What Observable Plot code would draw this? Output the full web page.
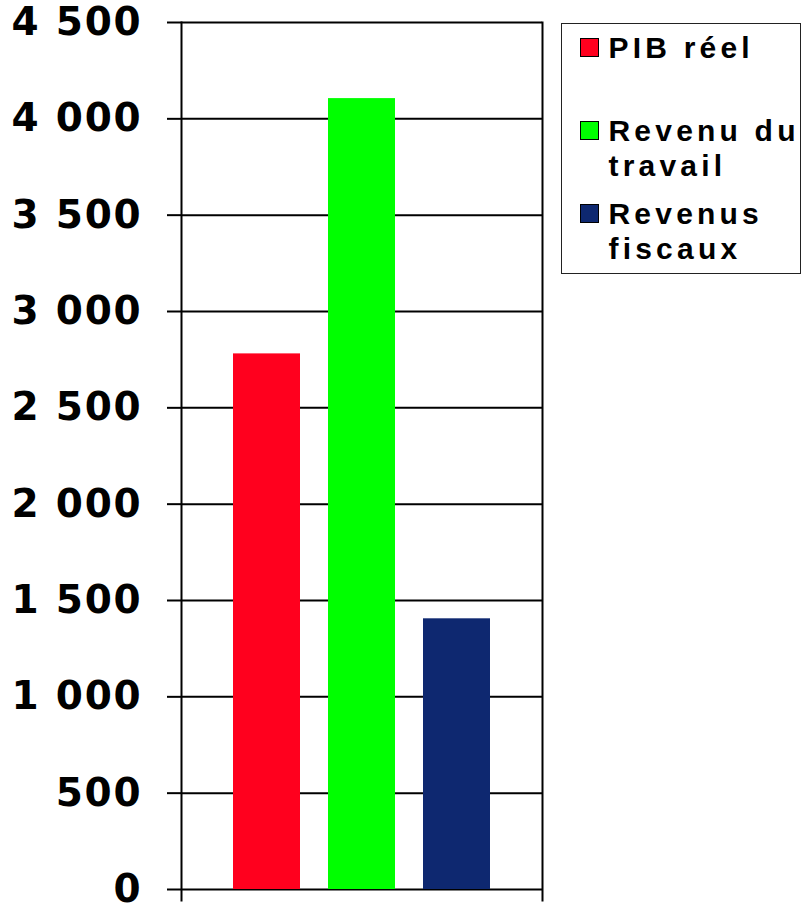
<!DOCTYPE html>
<html>
<head>
<meta charset="utf-8">
<script src="https://cdn.jsdelivr.net/npm/d3@7"></script>
<script src="https://cdn.jsdelivr.net/npm/@observablehq/plot@0.6"></script>
<style>
  html, body { margin: 0; padding: 0; background: #fff; }
  #wrap { position: relative; width: 801px; height: 906px; overflow: hidden; }
  #wrap svg text { letter-spacing: 1.8px; }
  #legend {
    position: absolute; left: 561px; top: 23px; width: 240px; height: 251px;
    border: 1.5px solid #222; box-sizing: border-box; background: #fff;
    font-family: "Liberation Sans", Arial, sans-serif; font-weight: bold; font-size: 30px;
    letter-spacing: 4.2px; color: #000;
  }
  .sw { position: absolute; left: 18px; width: 19px; height: 19px; border: 1.5px solid #000; box-sizing: border-box; }
  .lab { position: absolute; left: 46.5px; white-space: pre; line-height: 35px; }
</style>
</head>
<body>
<div id="wrap"></div>
<script>
const series = ["PIB réel", "Revenu du travail", "Revenus fiscaux"];
const values = [2780, 4105, 1405];
const colors = ["#ff001e", "#00ff00", "#0e2870"];
const legendLabels = ["PIB réel", "Revenu du\ntravail", "Revenus\nfiscaux"];
const yTicks = [0, 500, 1000, 1500, 2000, 2500, 3000, 3500, 4000, 4500];

const data = series.map((s, i) => ({series: s, value: values[i]}));
const fmt = v => d3.format(",")(v).replace(/,/g, " ");

const chart = Plot.plot({
  width: 801,
  height: 906,
  marginLeft: 181,
  marginRight: 259,
  marginTop: 22,
  marginBottom: 17,
  style: {fontFamily: "DejaVu Sans, sans-serif", fontWeight: "bold", background: "#fff", overflow: "visible"},
  x: {domain: series, paddingInner: 0.29, paddingOuter: 0.53, axis: null},
  y: {domain: [0, 4500], axis: null},
  color: {domain: series, range: colors},
  marks: [
    Plot.ruleY(yTicks, {stroke: "#000", strokeWidth: 2}),
    Plot.barY(data, {x: "series", y: "value", fill: "series"}),
    Plot.frame({anchor: "left", stroke: "#000", strokeWidth: 2, insetBottom: -11}),
    Plot.frame({anchor: "right", stroke: "#000", strokeWidth: 2, insetBottom: -11}),
    Plot.axisY({ticks: yTicks, tickFormat: fmt, label: null, tickSize: 14, tickPadding: 25, fontSize: 39, fontWeight: "bold", stroke: "#000", strokeWidth: 2, color: "#000"})
  ]
});
document.getElementById("wrap").appendChild(chart);

// Legend (HTML overlay)
const legend = document.createElement("div");
legend.id = "legend";
const textTops = [5.5, 88.5, 171.5];
const swTops = [13.5, 96.5, 180];
legendLabels.forEach((lab, i) => {
  const sw = document.createElement("div");
  sw.className = "sw";
  sw.style.background = colors[i];
  sw.style.top = swTops[i] + "px";
  const t = document.createElement("div");
  t.className = "lab";
  t.style.top = textTops[i] + "px";
  t.textContent = lab;
  legend.appendChild(sw);
  legend.appendChild(t);
});
document.getElementById("wrap").appendChild(legend);
</script>
</body>
</html>
